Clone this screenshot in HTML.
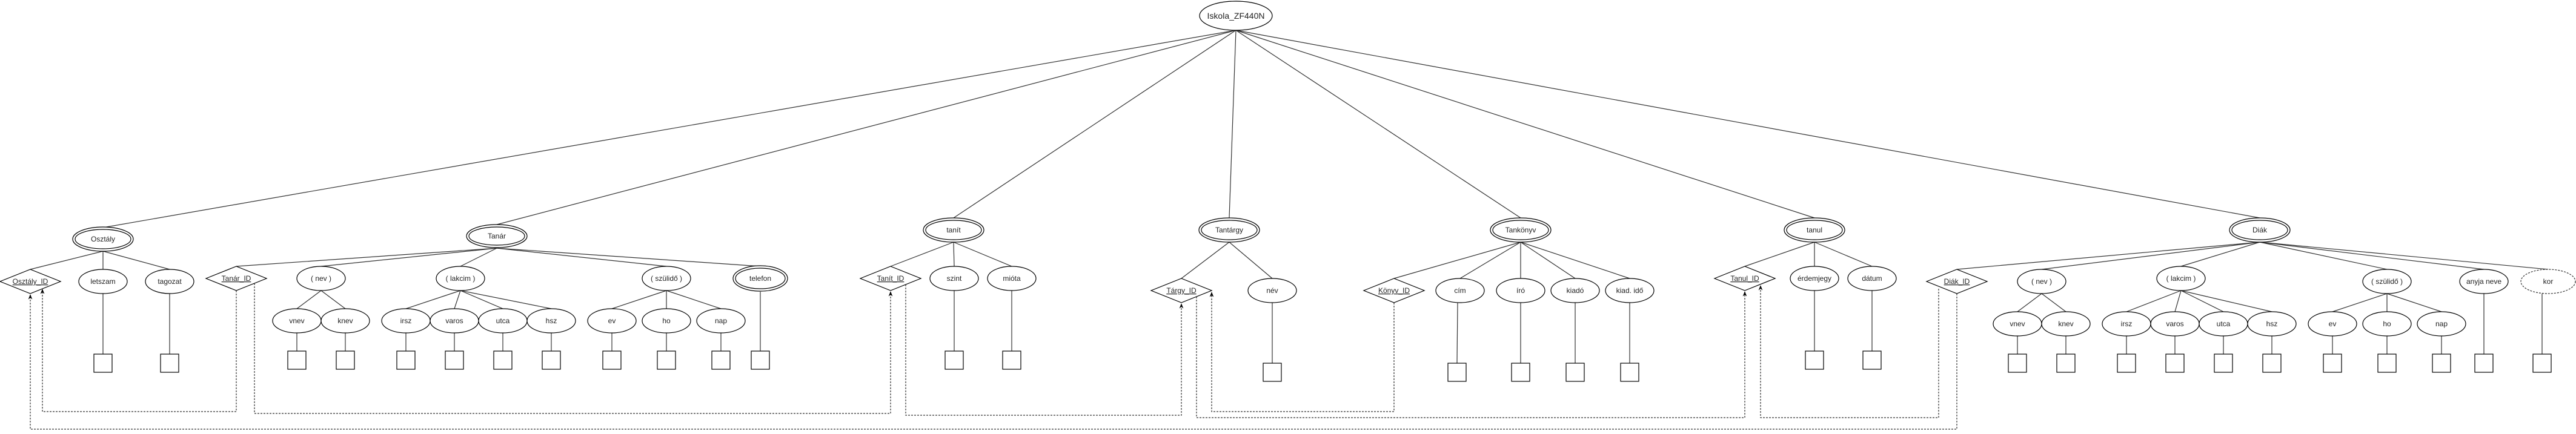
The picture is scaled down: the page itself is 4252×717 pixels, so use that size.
<!DOCTYPE html>
<html><head><meta charset="utf-8"><style>
html,body{margin:0;padding:0;background:#fff;}
svg{display:block;}
text{font-family:"Liberation Sans",Arial,sans-serif;font-size:12px;text-anchor:middle;fill:#222;}
.l{stroke:#333;stroke-width:1.2;fill:none;}
.s{stroke:#000;stroke-width:1.2;fill:#fff;}
.d{stroke:#333;stroke-width:1.2;fill:none;stroke-dasharray:3 2;}
.ul{text-decoration:underline;}
</style></head><body>
<svg width="4252" height="717" viewBox="0 0 4252 717" xmlns="http://www.w3.org/2000/svg">
<defs><marker id="a" viewBox="0 0 10 10" refX="9" refY="5" markerWidth="7" markerHeight="7" orient="auto"><path d="M0,1 L10,5 L0,9 L3,5 Z" fill="#000"/></marker></defs>

<!-- root lines -->
<g class="l">
<line x1="2040" y1="50" x2="170" y2="376"/>
<line x1="2040" y1="50" x2="820" y2="371"/>
<line x1="2040" y1="50" x2="1574" y2="360"/>
<line x1="2040" y1="50" x2="2029" y2="360"/>
<line x1="2040" y1="50" x2="2510" y2="360"/>
<line x1="2040" y1="50" x2="2995" y2="360"/>
<line x1="2040" y1="50" x2="3730" y2="360"/>
<!-- Osztály -->
<line x1="170" y1="415" x2="50" y2="445"/>
<line x1="170" y1="415" x2="170" y2="445"/>
<line x1="170" y1="415" x2="280" y2="445"/>
<line x1="170" y1="485" x2="170" y2="585"/>
<line x1="280" y1="485" x2="280" y2="585"/>
<!-- Tanár -->
<line x1="820" y1="410" x2="390" y2="440"/>
<line x1="820" y1="410" x2="530" y2="440"/>
<line x1="820" y1="410" x2="760" y2="440"/>
<line x1="820" y1="410" x2="1100" y2="440"/>
<line x1="820" y1="410" x2="1255" y2="440"/>
<line x1="530" y1="480" x2="490" y2="510"/>
<line x1="530" y1="480" x2="570" y2="510"/>
<line x1="760" y1="480" x2="670" y2="510"/>
<line x1="760" y1="480" x2="750" y2="510"/>
<line x1="760" y1="480" x2="830" y2="510"/>
<line x1="760" y1="480" x2="910" y2="510"/>
<line x1="1100" y1="480" x2="1010" y2="510"/>
<line x1="1100" y1="480" x2="1100" y2="510"/>
<line x1="1100" y1="480" x2="1190" y2="510"/>
<line x1="490" y1="550" x2="490" y2="580"/>
<line x1="570" y1="550" x2="570" y2="580"/>
<line x1="670" y1="550" x2="670" y2="580"/>
<line x1="750" y1="550" x2="750" y2="580"/>
<line x1="830" y1="550" x2="830" y2="580"/>
<line x1="910" y1="550" x2="910" y2="580"/>
<line x1="1010" y1="550" x2="1010" y2="580"/>
<line x1="1100" y1="550" x2="1100" y2="580"/>
<line x1="1190" y1="550" x2="1190" y2="580"/>
<line x1="1255" y1="482" x2="1255" y2="580"/>
<!-- tanít -->
<line x1="1574" y1="400" x2="1470" y2="440"/>
<line x1="1574" y1="400" x2="1575" y2="440"/>
<line x1="1574" y1="400" x2="1670" y2="440"/>
<line x1="1575" y1="480" x2="1575" y2="580"/>
<line x1="1670" y1="480" x2="1670" y2="580"/>
<!-- Tantárgy -->
<line x1="2029" y1="400" x2="1950" y2="460"/>
<line x1="2029" y1="400" x2="2100" y2="460"/>
<line x1="2100" y1="500" x2="2100" y2="600"/>
<!-- Tankönyv -->
<line x1="2510" y1="400" x2="2301" y2="460"/>
<line x1="2510" y1="400" x2="2410" y2="460"/>
<line x1="2510" y1="400" x2="2510" y2="460"/>
<line x1="2510" y1="400" x2="2600" y2="460"/>
<line x1="2510" y1="400" x2="2690" y2="460"/>
<line x1="2406" y1="500" x2="2405" y2="600"/>
<line x1="2510" y1="500" x2="2510" y2="600"/>
<line x1="2600" y1="500" x2="2600" y2="600"/>
<line x1="2690" y1="500" x2="2690" y2="600"/>
<!-- tanul -->
<line x1="2995" y1="400" x2="2880" y2="440"/>
<line x1="2995" y1="400" x2="2995" y2="440"/>
<line x1="2995" y1="400" x2="3090" y2="440"/>
<line x1="2995" y1="480" x2="2995" y2="580"/>
<line x1="3090" y1="480" x2="3090" y2="580"/>
<!-- Diák -->
<line x1="3730" y1="400" x2="3230" y2="445"/>
<line x1="3730" y1="400" x2="3370" y2="445"/>
<line x1="3730" y1="400" x2="3600" y2="440"/>
<line x1="3730" y1="400" x2="3940" y2="445"/>
<line x1="3730" y1="400" x2="4100" y2="445"/>
<line x1="3730" y1="400" x2="4206" y2="445"/>
<line x1="3370" y1="485" x2="3330" y2="515"/>
<line x1="3370" y1="485" x2="3410" y2="515"/>
<line x1="3600" y1="480" x2="3510" y2="515"/>
<line x1="3600" y1="480" x2="3590" y2="515"/>
<line x1="3600" y1="480" x2="3670" y2="515"/>
<line x1="3600" y1="480" x2="3750" y2="515"/>
<line x1="3940" y1="485" x2="3850" y2="515"/>
<line x1="3940" y1="485" x2="3940" y2="515"/>
<line x1="3940" y1="485" x2="4030" y2="515"/>
<line x1="3330" y1="555" x2="3330" y2="585"/>
<line x1="3410" y1="555" x2="3410" y2="585"/>
<line x1="3510" y1="555" x2="3510" y2="585"/>
<line x1="3590" y1="555" x2="3590" y2="585"/>
<line x1="3670" y1="555" x2="3670" y2="585"/>
<line x1="3750" y1="555" x2="3750" y2="585"/>
<line x1="3850" y1="555" x2="3850" y2="585"/>
<line x1="3940" y1="555" x2="3940" y2="585"/>
<line x1="4030" y1="555" x2="4030" y2="585"/>
<line x1="4100" y1="485" x2="4100" y2="585"/>
<line x1="4196" y1="485" x2="4196" y2="585"/>
</g>

<!-- dashed connectors -->
<g class="d">
<polyline points="390,480 390,680 70,680 70,478" marker-end="url(#a)"/>
<polyline points="3230,485 3230,709 50,709 50,487" marker-end="url(#a)"/>
<polyline points="420,468 420,683 1470,683 1470,482" marker-end="url(#a)"/>
<polyline points="1495,470 1495,686 1950,686 1950,502" marker-end="url(#a)"/>
<polyline points="2301,500 2301,680 2000,680 2000,483" marker-end="url(#a)"/>
<polyline points="1975,490 1975,690 2880,690 2880,482" marker-end="url(#a)"/>
<polyline points="3200,477 3200,690 2906,690 2906,472" marker-end="url(#a)"/>
</g>

<!-- root -->
<ellipse class="s" cx="2040" cy="26" rx="60" ry="24"/>
<text x="2040" y="31" style="font-size:14px">Iskola_ZF440N</text>

<!-- entities (double ellipses) -->
<g class="s">
<ellipse cx="170" cy="395" rx="50" ry="20"/><ellipse cx="170" cy="395" rx="46" ry="16"/>
<ellipse cx="820" cy="390" rx="50" ry="19"/><ellipse cx="820" cy="390" rx="46" ry="15"/>
<ellipse cx="1574" cy="380" rx="50" ry="20"/><ellipse cx="1574" cy="380" rx="46" ry="16"/>
<ellipse cx="2029" cy="380" rx="50" ry="20"/><ellipse cx="2029" cy="380" rx="46" ry="16"/>
<ellipse cx="2510" cy="380" rx="50" ry="20"/><ellipse cx="2510" cy="380" rx="46" ry="16"/>
<ellipse cx="2995" cy="380" rx="50" ry="20"/><ellipse cx="2995" cy="380" rx="46" ry="16"/>
<ellipse cx="3730" cy="380" rx="50" ry="20"/><ellipse cx="3730" cy="380" rx="46" ry="16"/>
<ellipse cx="1255" cy="460" rx="45" ry="21"/><ellipse cx="1255" cy="460" rx="41" ry="17"/>
</g>
<text x="170" y="399">Osztály</text>
<text x="820" y="394">Tanár</text>
<text x="1574" y="384">tanít</text>
<text x="2029" y="384">Tantárgy</text>
<text x="2510" y="384">Tankönyv</text>
<text x="2995" y="384">tanul</text>
<text x="3730" y="384">Diák</text>
<text x="1255" y="464">telefon</text>

<!-- diamonds -->
<g class="s">
<polygon points="0,465 50,445 100,465 50,485"/>
<polygon points="340,460 390,440 440,460 390,480"/>
<polygon points="1420,460 1470,440 1520,460 1470,480"/>
<polygon points="1900,480 1950,460 2000,480 1950,500"/>
<polygon points="2251,480 2301,460 2351,480 2301,500"/>
<polygon points="2830,460 2880,440 2930,460 2880,480"/>
<polygon points="3180,465 3230,445 3280,465 3230,485"/>
</g>
<text class="ul" x="50" y="469">Osztály_ID</text>
<text class="ul" x="390" y="464">Tanár_ID</text>
<text class="ul" x="1470" y="464">Tanít_ID</text>
<text class="ul" x="1950" y="484">Tárgy_ID</text>
<text class="ul" x="2301" y="484">Könyv_ID</text>
<text class="ul" x="2880" y="464">Tanul_ID</text>
<text class="ul" x="3230" y="469">Diák_ID</text>

<!-- attribute ellipses -->
<g class="s">
<ellipse cx="170" cy="465" rx="40" ry="20"/>
<ellipse cx="280" cy="465" rx="40" ry="20"/>
<ellipse cx="530" cy="460" rx="40" ry="20"/>
<ellipse cx="760" cy="460" rx="40" ry="20"/>
<ellipse cx="1100" cy="460" rx="40" ry="20"/>
<ellipse cx="490" cy="530" rx="40" ry="20"/>
<ellipse cx="570" cy="530" rx="40" ry="20"/>
<ellipse cx="670" cy="530" rx="40" ry="20"/>
<ellipse cx="750" cy="530" rx="40" ry="20"/>
<ellipse cx="830" cy="530" rx="40" ry="20"/>
<ellipse cx="910" cy="530" rx="40" ry="20"/>
<ellipse cx="1010" cy="530" rx="40" ry="20"/>
<ellipse cx="1100" cy="530" rx="40" ry="20"/>
<ellipse cx="1190" cy="530" rx="40" ry="20"/>
<ellipse cx="1575" cy="460" rx="40" ry="20"/>
<ellipse cx="1670" cy="460" rx="40" ry="20"/>
<ellipse cx="2100" cy="480" rx="40" ry="20"/>
<ellipse cx="2410" cy="480" rx="40" ry="20"/>
<ellipse cx="2510" cy="480" rx="40" ry="20"/>
<ellipse cx="2600" cy="480" rx="40" ry="20"/>
<ellipse cx="2690" cy="480" rx="40" ry="20"/>
<ellipse cx="2995" cy="460" rx="40" ry="20"/>
<ellipse cx="3090" cy="460" rx="40" ry="20"/>
<ellipse cx="3370" cy="465" rx="40" ry="20"/>
<ellipse cx="3600" cy="460" rx="40" ry="20"/>
<ellipse cx="3940" cy="465" rx="40" ry="20"/>
<ellipse cx="4100" cy="465" rx="40" ry="20"/>
<ellipse cx="3330" cy="535" rx="40" ry="20"/>
<ellipse cx="3410" cy="535" rx="40" ry="20"/>
<ellipse cx="3510" cy="535" rx="40" ry="20"/>
<ellipse cx="3590" cy="535" rx="40" ry="20"/>
<ellipse cx="3670" cy="535" rx="40" ry="20"/>
<ellipse cx="3750" cy="535" rx="40" ry="20"/>
<ellipse cx="3850" cy="535" rx="40" ry="20"/>
<ellipse cx="3940" cy="535" rx="40" ry="20"/>
<ellipse cx="4030" cy="535" rx="40" ry="20"/>
</g>
<ellipse cx="4206" cy="465" rx="45" ry="20" style="fill:#fff;stroke:#333;stroke-width:1.2;stroke-dasharray:3 2"/>

<text x="170" y="469">letszam</text>
<text x="280" y="469">tagozat</text>
<text x="530" y="464">( nev )</text>
<text x="760" y="464">( lakcim )</text>
<text x="1100" y="464">( szülidő )</text>
<text x="490" y="534">vnev</text>
<text x="570" y="534">knev</text>
<text x="670" y="534">irsz</text>
<text x="750" y="534">varos</text>
<text x="830" y="534">utca</text>
<text x="910" y="534">hsz</text>
<text x="1010" y="534">ev</text>
<text x="1100" y="534">ho</text>
<text x="1190" y="534">nap</text>
<text x="1575" y="464">szint</text>
<text x="1670" y="464">mióta</text>
<text x="2100" y="484">név</text>
<text x="2410" y="484">cím</text>
<text x="2510" y="484">író</text>
<text x="2600" y="484">kiadó</text>
<text x="2690" y="484">kiad. idő</text>
<text x="2995" y="464">érdemjegy</text>
<text x="3090" y="464">dátum</text>
<text x="3370" y="469">( nev )</text>
<text x="3600" y="464">( lakcim )</text>
<text x="3940" y="469">( szülidő )</text>
<text x="4100" y="469">anyja neve</text>
<text x="4206" y="469">kor</text>
<text x="3330" y="539">vnev</text>
<text x="3410" y="539">knev</text>
<text x="3510" y="539">irsz</text>
<text x="3590" y="539">varos</text>
<text x="3670" y="539">utca</text>
<text x="3750" y="539">hsz</text>
<text x="3850" y="539">ev</text>
<text x="3940" y="539">ho</text>
<text x="4030" y="539">nap</text>

<!-- boxes -->
<g class="s">
<rect x="155" y="585" width="30" height="30"/>
<rect x="265" y="585" width="30" height="30"/>
<rect x="475" y="580" width="30" height="30"/>
<rect x="555" y="580" width="30" height="30"/>
<rect x="655" y="580" width="30" height="30"/>
<rect x="735" y="580" width="30" height="30"/>
<rect x="815" y="580" width="30" height="30"/>
<rect x="895" y="580" width="30" height="30"/>
<rect x="995" y="580" width="30" height="30"/>
<rect x="1085" y="580" width="30" height="30"/>
<rect x="1175" y="580" width="30" height="30"/>
<rect x="1240" y="580" width="30" height="30"/>
<rect x="1560" y="580" width="30" height="30"/>
<rect x="1655" y="580" width="30" height="30"/>
<rect x="2085" y="600" width="30" height="30"/>
<rect x="2390" y="600" width="30" height="30"/>
<rect x="2495" y="600" width="30" height="30"/>
<rect x="2585" y="600" width="30" height="30"/>
<rect x="2675" y="600" width="30" height="30"/>
<rect x="2980" y="580" width="30" height="30"/>
<rect x="3075" y="580" width="30" height="30"/>
<rect x="3315" y="585" width="30" height="30"/>
<rect x="3395" y="585" width="30" height="30"/>
<rect x="3495" y="585" width="30" height="30"/>
<rect x="3575" y="585" width="30" height="30"/>
<rect x="3655" y="585" width="30" height="30"/>
<rect x="3735" y="585" width="30" height="30"/>
<rect x="3835" y="585" width="30" height="30"/>
<rect x="3925" y="585" width="30" height="30"/>
<rect x="4015" y="585" width="30" height="30"/>
<rect x="4085" y="585" width="30" height="30"/>
<rect x="4181" y="585" width="30" height="30"/>
</g>
</svg>
</body></html>
